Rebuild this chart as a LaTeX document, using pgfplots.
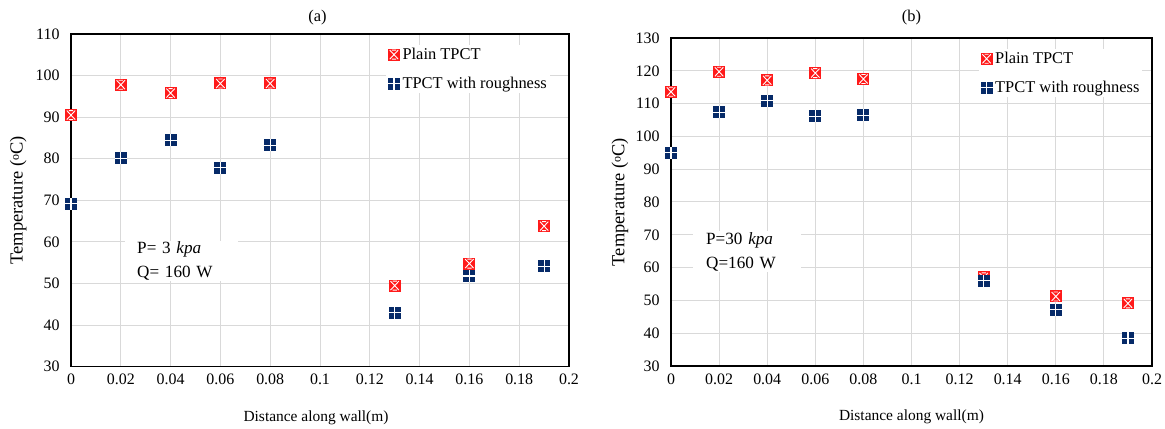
\documentclass[border=0pt]{standalone}
\usepackage{pgfplots}
\pgfplotsset{compat=1.18}
\usepackage{fontspec}
\setmainfont{Liberation Serif}
\definecolor{pred}{HTML}{FF1A1A}
\definecolor{pblue}{HTML}{062A68}
\definecolor{gridc}{HTML}{D9D9D9}
\pgfdeclareplotmark{plainx}{%
  \pgfsetfillcolor{pred}%
  \pgfpathrectangle{\pgfpoint{-\pgfplotmarksize}{-\pgfplotmarksize}}{\pgfpoint{2\pgfplotmarksize}{2\pgfplotmarksize}}%
  \pgfusepath{fill}%
  \pgfsetstrokecolor{white}\pgfsetlinewidth{0.9bp}%
  \pgfpathmoveto{\pgfpoint{-0.7\pgfplotmarksize}{-0.75\pgfplotmarksize}}%
  \pgfpathlineto{\pgfpoint{0.7\pgfplotmarksize}{0.75\pgfplotmarksize}}%
  \pgfpathmoveto{\pgfpoint{-0.7\pgfplotmarksize}{0.75\pgfplotmarksize}}%
  \pgfpathlineto{\pgfpoint{0.7\pgfplotmarksize}{-0.75\pgfplotmarksize}}%
  \pgfpathmoveto{\pgfpoint{-0.35\pgfplotmarksize}{0.75\pgfplotmarksize}}%
  \pgfpathlineto{\pgfpoint{0.35\pgfplotmarksize}{0.75\pgfplotmarksize}}%
  \pgfpathmoveto{\pgfpoint{-0.35\pgfplotmarksize}{-0.75\pgfplotmarksize}}%
  \pgfpathlineto{\pgfpoint{0.35\pgfplotmarksize}{-0.75\pgfplotmarksize}}%
  \pgfusepath{stroke}}
\pgfdeclareplotmark{roughplus}{%
  \pgfsetfillcolor{pblue}%
  \pgfpathrectangle{\pgfpoint{-\pgfplotmarksize}{-\pgfplotmarksize}}{\pgfpoint{2\pgfplotmarksize}{2\pgfplotmarksize}}%
  \pgfusepath{fill}%
  \pgfsetstrokecolor{white}\pgfsetlinewidth{1.1bp}%
  \pgfpathmoveto{\pgfpoint{-\pgfplotmarksize}{0pt}}%
  \pgfpathlineto{\pgfpoint{\pgfplotmarksize}{0pt}}%
  \pgfpathmoveto{\pgfpoint{0pt}{-\pgfplotmarksize}}%
  \pgfpathlineto{\pgfpoint{0pt}{\pgfplotmarksize}}%
  \pgfusepath{stroke}}
\pgfplotsset{
  myaxis/.style={
    scale only axis,
    clip=false,
    anchor=south west,
    font=\fontsize{15.5}{18}\selectfont,
    /pgf/number format/assume math mode=true,
    axis line style={black,line width=1.2bp},
    grid=major,
    major grid style={gridc,line width=1bp},
    major tick length=0pt,
    xmin=0,xmax=0.2,
    xtick={0,0.02,...,0.2},
    xticklabel style={/pgf/number format/fixed,/pgf/number format/precision=2,yshift=-4bp,font=\fontsize{16}{18}\selectfont},
    yticklabel style={xshift=-8bp,font=\fontsize{16}{18}\selectfont},
    scaled x ticks=false,
    xlabel={Distance along wall(m)},
    ylabel={Temperature ({\raisebox{0.45ex}{\fontsize{12}{12}\selectfont o}}C)},
    every axis y label/.style={at={(axis description cs:-0.106,0.5)},rotate=90,anchor=center,font=\fontsize{18.5}{20}\selectfont},
    legend style={draw=none,fill=white,font=\fontsize{16.5}{19}\selectfont,
      anchor=north west,row sep=12bp,inner sep=1bp,
      /tikz/every even column/.append style={column sep=0bp}},
    legend cell align=left,
    legend image code/.code={\draw[mark repeat=2,mark phase=2,#1] plot coordinates {(0bp,0bp)(6bp,0bp)(12bp,0bp)};},
    mark size=6bp,
  }
}
\begin{document}
\begin{tikzpicture}
\path[use as bounding box] (0,0) rectangle (1165bp,429bp);
\begin{axis}[myaxis,
  at={(71bp,62.3bp)}, width=498bp, height=332.7bp,
  ymin=30,ymax=110,ytick={30,40,...,110},
  every axis x label/.style={at={(axis description cs:0.492,-0.153)},anchor=center},
  legend style={at={(axis description cs:0.633,0.967)}},
]
\node[font=\fontsize{16.5}{19}\selectfont] at (axis description cs:0.495,1.048) {(a)};
\addplot[only marks,mark=plainx] coordinates {
 (0,90.5) (0.02,97.8) (0.04,95.8) (0.06,98.1) (0.08,98.1) (0.13,49.5) (0.16,54.8) (0.19,63.8)};
\addlegendentry{Plain TPCT}
\addplot[only marks,mark=roughplus] coordinates {
 (0,69.2) (0.02,80.1) (0.04,84.4) (0.06,77.8) (0.08,83.2) (0.13,43.0) (0.16,51.8) (0.19,54.1)};
\addlegendentry{TPCT with roughness}
\node[fill=white,anchor=west,inner xsep=12bp,inner ysep=1bp,text width=89bp,align=left,
  font=\fontsize{17.2}{24}\selectfont] at (axis cs:0.0217,55.4) {P= 3 \textit{kpa}\\Q= 160 W};
\end{axis}
\begin{axis}[myaxis,
  at={(671bp,63bp)}, width=481bp, height=328bp,
  ymin=30,ymax=130,ytick={30,40,...,130},
  every axis x label/.style={at={(axis description cs:0.5,-0.156)},anchor=center},
  legend style={at={(axis description cs:0.64,0.966)}},
]
\node[font=\fontsize{16.5}{19}\selectfont] at (axis description cs:0.5,1.062) {(b)};
\addplot[only marks,mark=plainx] coordinates {
 (0,113.6) (0.02,119.7) (0.04,117.1) (0.06,119.3) (0.08,117.5) (0.13,57.0) (0.16,51.2) (0.19,49.1)};
\addlegendentry{Plain TPCT}
\addplot[only marks,mark=roughplus] coordinates {
 (0,95.0) (0.02,107.3) (0.04,110.9) (0.06,106.1) (0.08,106.5) (0.13,56.0) (0.16,47.2) (0.19,38.5)};
\addlegendentry{TPCT with roughness}
\node[fill=white,anchor=west,inner xsep=13bp,inner ysep=1bp,text width=82bp,align=left,
  font=\fontsize{17.2}{24}\selectfont] at (axis cs:0.00915,64.9) {P=30 \textit{kpa}\\Q=160 W};
\end{axis}
\end{tikzpicture}
\end{document}
